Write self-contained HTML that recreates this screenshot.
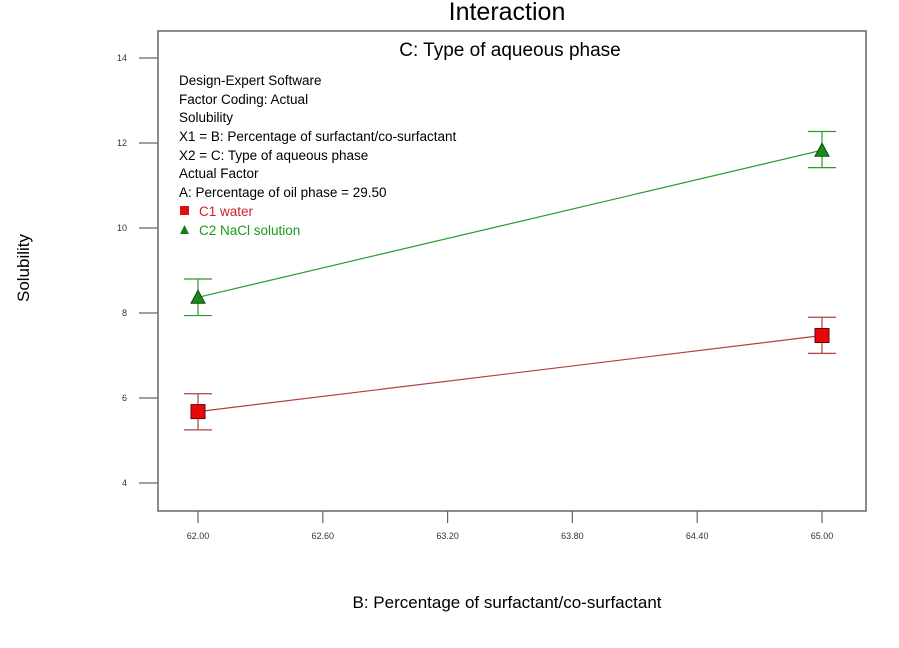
<!DOCTYPE html>
<html><head><meta charset="utf-8"><style>
body{margin:0;background:#fff;}
svg{display:block;font-family:"Liberation Sans",Arial,sans-serif;}
</style></head><body>
<svg id="chart" width="899" height="648">
<text x="507" y="20" font-size="25" text-anchor="middle">Interaction</text>
<rect x="158" y="31" width="708" height="480" fill="none" stroke="#666" stroke-width="1.5"/>
<text x="510" y="56" font-size="19" text-anchor="middle">C: Type of aqueous phase</text>
<g font-size="13.5">
<text x="179" y="85">Design-Expert  Software</text>
<text x="179" y="104">Factor Coding: Actual</text>
<text x="179" y="122">Solubility</text>
<text x="179" y="141">X1 = B: Percentage of surfactant/co-surfactant</text>
<text x="179" y="160">X2 = C: Type of aqueous phase</text>
<text x="179" y="178">Actual Factor</text>
<text x="179" y="197">A: Percentage of oil phase = 29.50</text>
<rect x="180" y="206" width="9" height="9" fill="#e01010"/>
<text x="199" y="216" fill="#d0202a">C1 water</text>
<polygon points="180,234 189,234 184.5,225" fill="#1a7a1a"/>
<text x="199" y="235" fill="#1a9a1a">C2 NaCl solution</text>
</g>
<text transform="translate(29,268) rotate(-90)" font-size="17" text-anchor="middle">Solubility</text>
<text x="507" y="608" font-size="17" text-anchor="middle">B: Percentage of surfactant/co-surfactant</text>
<g id="axes"></g>
<g id="marks"></g>
</svg>
<script>
const xTicks=[62.00,62.60,63.20,63.80,64.40,65.00];
const yTicks=[4,6,8,10,12,14];
const xCats=[62,65];
const c1Mean=[5.68,7.47];
const c1Low=[5.25,7.05];
const c1High=[6.10,7.90];
const c2Mean=[8.37,11.83];
const c2Low=[7.94,11.42];
const c2High=[8.80,12.27];
const X=v=>198+(v-62)*(822-198)/3;
const Y=v=>483-(v-4)*42.5;
const NS="http://www.w3.org/2000/svg";
function mk(tag,attrs,parent){const e=document.createElementNS(NS,tag);for(const k in attrs)e.setAttribute(k,attrs[k]);parent.appendChild(e);return e;}
const axes=document.getElementById('axes'),marks=document.getElementById('marks');
xTicks.forEach(t=>{
  const l=mk('line',{x1:X(t),x2:X(t),y1:511,y2:523,stroke:'#666','stroke-width':1.2},axes);
  
  
  const tx=mk('text',{x:X(t),y:539,'font-size':9,'text-anchor':'middle',fill:'#333'},axes);
  tx.textContent=t.toFixed(2);
  
  
});
yTicks.forEach(t=>{
  const l=mk('line',{x1:139,x2:158,y1:Y(t),y2:Y(t),stroke:'#666','stroke-width':1.2},axes);
  
  
  const tx=mk('text',{x:127,y:Y(t)+3,'font-size':9,'text-anchor':'end',fill:'#333'},axes);
  tx.textContent=t;
  
  
});
function series(mean,low,high,lineCol,fill,shape,name){
  const ln=mk('line',{x1:X(xCats[0]),y1:Y(mean[0]),x2:X(xCats[1]),y2:Y(mean[1]),stroke:lineCol,'stroke-width':1.2},marks);
  
  
  xCats.forEach((c,i)=>{
    const x=X(c);
    const g=mk('g',{stroke:lineCol,'stroke-width':1.2},marks);
    
    
    mk('line',{x1:x,x2:x,y1:Y(low[i]),y2:Y(high[i])},g);
    mk('line',{x1:x-14,x2:x+14,y1:Y(low[i]),y2:Y(low[i])},g);
    mk('line',{x1:x-14,x2:x+14,y1:Y(high[i]),y2:Y(high[i])},g);
    const y=Y(mean[i]);
    let p;
    if(shape==='square') p=mk('rect',{x:x-7,y:y-7,width:14,height:14,fill:fill,stroke:'#600','stroke-width':1},marks);
    else p=mk('polygon',{points:`${x-7},${y+6} ${x+7},${y+6} ${x},${y-7}`,fill:fill,stroke:'#0a4a0a','stroke-width':1},marks);
    
    
  });
}
series(c1Mean,c1Low,c1High,'#b04040','#e80808','square','c1-water');
series(c2Mean,c2Low,c2High,'#2a9a2a','#1a8a1a','triangle','c2-nacl');
</script>
</body></html>
